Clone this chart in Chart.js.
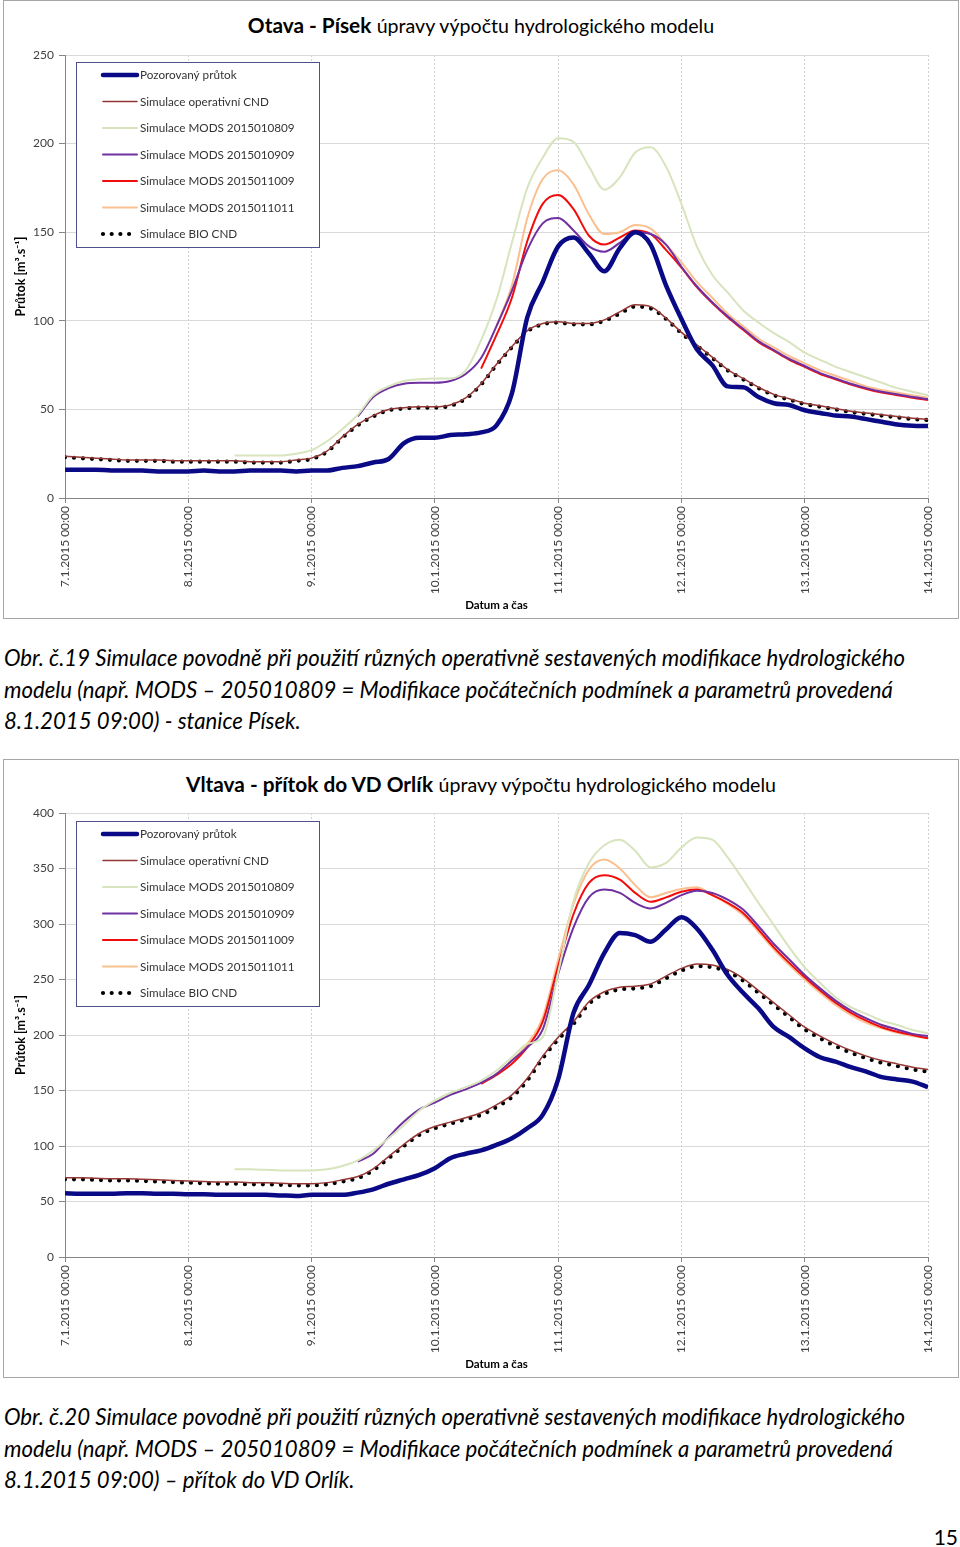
<!DOCTYPE html>
<html lang="cs">
<head>
<meta charset="utf-8">
<script src="https://cdn.jsdelivr.net/npm/chart.js@4.4.1/dist/chart.umd.min.js"></script>
<style>
  body { margin: 0; width: 960px; height: 1547px; position: relative; background: #fff;
         font-family: Lato, "Open Sans", sans-serif; color: #000; overflow: hidden; }
  .frame { position: absolute; left: 3px; width: 956px; height: 619px; border: 1px solid #a6a6a6; box-sizing: border-box; }
  .chart-title { position: absolute; left: 0; width: 962px; text-align: center; font-size: 20.8px; line-height: 24px; }
  .chart-title b { font-weight: bold; }
  .chart-title span { font-size: 19.6px; }
  canvas { position: absolute; left: 0; }
  .caption { position: absolute; left: 4px; font-style: italic; font-size: 22.2px; line-height: 31.5px; white-space: nowrap; }
  .page-num { position: absolute; right: 2px; top: 1524px; font-size: 21px; }
</style>
</head>
<body>

<div class="frame" style="top:0"></div>
<div class="chart-title" style="top:13px"><b>Otava - Písek</b> <span>úpravy výpočtu hydrologického modelu</span></div>
<canvas id="pisek" width="960" height="620" style="top:0"></canvas>
<div class="caption" style="top:642px">Obr. č.19 Simulace povodně při použití různých operativně sestavených modifikace hydrologického<br>modelu (např. MODS – 205010809 = Modifikace počátečních podmínek a parametrů provedená<br>8.1.2015 09:00) - stanice Písek.</div>

<div class="frame" style="top:759px"></div>
<div class="chart-title" style="top:772px"><b>Vltava - přítok do VD Orlík</b> <span>úpravy výpočtu hydrologického modelu</span></div>
<canvas id="orlik" width="960" height="620" style="top:759px"></canvas>
<div class="caption" style="top:1401px">Obr. č.20 Simulace povodně při použití různých operativně sestavených modifikace hydrologického<br>modelu (např. MODS – 205010809 = Modifikace počátečních podmínek a parametrů provedená<br>8.1.2015 09:00) – přítok do VD Orlík.</div>

<div class="page-num">15</div>

<script>
// hodiny od 7.1.2015 00:00, krok 3 h
const hours = [
  0, 3, 6, 9, 12, 15, 18, 21,
  24, 27, 30, 33, 36, 39, 42, 45,
  48, 51, 54, 57, 60, 63, 66, 69,
  72, 75, 78, 81, 84, 87, 90, 93,
  96, 99, 102, 105, 108, 111, 114, 117,
  120, 123, 126, 129, 132, 135, 138, 141,
  144, 147, 150, 153, 156, 159, 162, 165,
  168
];
const dayLabels = ['7.1.2015 00:00', '8.1.2015 00:00', '9.1.2015 00:00', '10.1.2015 00:00',
                   '11.1.2015 00:00', '12.1.2015 00:00', '13.1.2015 00:00', '14.1.2015 00:00'];
const seriesNames = ['Pozorovaný průtok', 'Simulace operativní CND', 'Simulace MODS 2015010809',
                     'Simulace MODS 2015010909', 'Simulace MODS 2015011009', 'Simulace MODS 2015011011',
                     'Simulace BIO CND'];

const pisekTicks = [0, 50, 100, 150, 200, 250];
const orlikTicks = [0, 50, 100, 150, 200, 250, 300, 350, 400];

// Otava - Písek
const pisekObserved = [
  16, 16, 16, 15.5, 15.5, 15.5, 15, 15,
  15, 15.5, 15, 15, 15.5, 15.5, 15.5, 15,
  15.5, 15.5, 17, 18, 20, 22, 31, 34,
  34, 35.5, 36, 37, 41, 59, 102, 122,
  142, 147, 138, 128, 141, 150, 143, 120,
  101, 84, 75, 63, 62.5, 57, 53.5, 52.5,
  49.5, 48, 46.5, 46, 44.5, 43, 41.5, 40.8,
  40.6
];
const pisekOperCnd = [
  23.5, 23, 22.5, 22, 21.5, 21.5, 21.5, 21,
  21, 21, 21, 21, 20.5, 20.5, 20.5, 21.5,
  22.5, 26.5, 34.5, 41.5, 46.5, 50, 51, 51.5,
  51.5, 52.5, 56.5, 64.5, 75.5, 85.5, 94.5, 98.5,
  99.5, 98.5, 98.5, 100.5, 105, 109, 108, 101.5,
  93.5, 86.5, 79.5, 72.5, 67.5, 62.5, 58.5, 56,
  53.5, 52, 50.5, 49, 48, 47, 46, 45,
  44.5
];
const pisekMods0809 = [
  null, null, null, null, null, null, null, null,
  null, null, null, 24, 24, 24, 24, 25,
  27, 32, 39, 47, 58, 63, 66, 67,
  67.5, 67.5, 72, 89, 112, 144, 175, 192,
  203, 201, 187, 174, 181, 195, 198, 187,
  166, 142, 126, 116, 106, 99, 93, 88,
  82, 78, 74, 71, 68, 65, 62, 60,
  58
];
const pisekMods0909 = [
  null, null, null, null, null, null, null, null,
  null, null, null, null, null, null, null, null,
  null, null, null, 46, 57, 62, 64.5, 65,
  65, 66, 70, 79, 97, 117, 140, 155,
  158, 151, 142, 139, 144, 150, 149, 143,
  130.5, 119.5, 110.5, 102.5, 95.5, 88.5, 83.5, 78.5,
  74.5, 70.5, 67.5, 64.5, 62, 60, 58.5, 57,
  55.8
];
const pisekMods1009 = [
  null, null, null, null, null, null, null, null,
  null, null, null, null, null, null, null, null,
  null, null, null, null, null, null, null, null,
  null, null, null, 73, 92, 113, 145, 166,
  171, 163, 148, 143, 147, 151, 149, 140,
  130, 119, 110, 102, 95, 88, 83, 78,
  74, 70, 67, 64, 61.5, 59.5, 58, 56.5,
  55.3
];
const pisekMods1011 = [
  null, null, null, null, null, null, null, null,
  null, null, null, null, null, null, null, null,
  null, null, null, null, null, null, null, null,
  null, null, null, null, 97, 120, 158, 180,
  185, 177, 160, 149, 150, 154, 152, 143,
  133, 122, 113, 104, 97, 90, 85, 80,
  76, 72, 69, 66, 63, 61, 59.5, 58,
  56.5
];
const pisekBioCnd = [
  23, 22.5, 22, 21.5, 21, 21, 21, 20.5,
  20.5, 20.5, 20.5, 20.5, 20, 20, 20, 21,
  22, 26, 34, 41, 46, 49.5, 50.5, 51,
  51, 52, 56, 64, 75, 85, 94, 98,
  99, 98, 98, 100, 104, 108, 107, 101,
  93, 86, 79, 72, 67, 62, 58, 55.5,
  53, 51.5, 50, 48.5, 47.5, 46.5, 45.5, 44.5,
  44
];

// Vltava - přítok do VD Orlík
const orlikObserved = [
  57.5, 57, 57, 57, 57.5, 57.5, 57, 57,
  56.5, 56.5, 56, 56, 56, 56, 55.5, 55,
  56, 56, 56, 58, 61, 66, 70, 74,
  80, 89, 93, 96, 101, 107, 116, 128,
  160, 220, 245, 274, 292, 290, 284, 295,
  306, 296, 277, 254, 238, 224, 207, 198,
  188, 180, 176, 171, 167, 162, 160, 158,
  153
];
const orlikOperCnd = [
  71.5, 71.5, 71, 70.5, 70.5, 70, 69.5, 69,
  68.5, 68, 67.5, 67.5, 67, 67, 66.5, 66,
  66, 67, 69.5, 72.5, 79.5, 90.5, 101.5, 111.5,
  117.5, 121.5, 125.5, 130, 137, 146, 161, 181,
  198, 212, 230, 239, 243, 244, 246, 253,
  260, 264, 263, 259, 251, 240, 229, 218,
  207, 199, 192, 186, 181, 177, 174, 171,
  169
];
const orlikMods0809 = [
  null, null, null, null, null, null, null, null,
  null, null, null, 79, 79, 78.5, 78, 78,
  78, 79, 82, 87, 96, 107, 119, 132,
  141, 148, 153, 159, 168, 180, 192, 198,
  256, 321, 355, 371, 376, 366, 351, 355,
  369, 378, 376, 360, 340, 319, 299, 279,
  261, 247, 234, 225, 219, 213, 209, 204.5,
  201.5
];
const orlikMods0909 = [
  null, null, null, null, null, null, null, null,
  null, null, null, null, null, null, null, null,
  null, null, null, 86, 93, 108, 122, 133,
  139, 146, 151, 157, 165, 177, 189, 205,
  255, 297, 324, 331, 328, 319, 314, 319,
  326, 330, 328, 322, 313, 298, 282, 268,
  254, 242, 231, 222, 215, 209, 205, 201,
  199
];
const orlikMods1009 = [
  null, null, null, null, null, null, null, null,
  null, null, null, null, null, null, null, null,
  null, null, null, null, null, null, null, null,
  null, null, null, 156, 164, 174, 189, 212,
  262, 309, 337, 344, 340, 328, 320, 324,
  329, 331, 326, 319, 310, 295, 279, 265,
  252, 240, 229, 220, 213, 207, 203, 200,
  197
];
const orlikMods1011 = [
  null, null, null, null, null, null, null, null,
  null, null, null, null, null, null, null, null,
  null, null, null, null, null, null, null, null,
  null, null, null, null, 165, 177, 192, 216,
  268, 318, 349, 358, 350, 335, 324, 328,
  331.5, 333, 326, 318, 308, 293, 277, 263,
  250, 238, 227, 218, 211, 206, 202, 199,
  197
];
const orlikBioCnd = [
  70, 70, 69.5, 69, 69, 68.5, 68, 67.5,
  67, 66.5, 66, 66, 65.5, 65.5, 65, 64.5,
  64.5, 65.5, 68, 71, 78, 89, 100, 110,
  116, 120, 124, 128, 135, 144, 159, 179,
  196, 210, 228, 237, 241, 242, 244, 251,
  258, 262, 261, 257, 249, 238, 227, 216,
  205, 197, 190, 184, 179, 175, 172, 169,
  167
];

const seriesStyles = [
  { borderColor: '#0a0a86', borderWidth: 4.5 },
  { borderColor: '#953735', borderWidth: 1.5 },
  { borderColor: '#d7e4bd', borderWidth: 2 },
  { borderColor: '#7030a0', borderWidth: 2 },
  { borderColor: '#f20d0d', borderWidth: 2 },
  { borderColor: '#fac090', borderWidth: 2 },
  { borderColor: '#000000', borderWidth: 4.2, borderDash: [0, 9], borderCapStyle: 'round' }
];

Chart.defaults.font.family = 'Lato, "Open Sans", sans-serif';
Chart.defaults.animation = false;

// legenda v rámečku uvnitř grafu
const boxLegend = {
  id: 'boxLegend',
  afterDraw(chart) {
    const ctx = chart.ctx;
    const x = 76, y = 62, w = 243, h = 185;
    ctx.save();
    ctx.fillStyle = '#fff';
    ctx.fillRect(x, y, w, h);
    ctx.strokeStyle = '#50508a';
    ctx.lineWidth = 1;
    ctx.strokeRect(x + 0.5, y + 0.5, w, h);
    ctx.font = '11.7px Lato, "Open Sans", sans-serif';
    ctx.textBaseline = 'middle';
    chart.data.datasets.forEach((ds, i) => {
      const cy = y + 13 + i * 26.5;
      ctx.beginPath();
      ctx.strokeStyle = ds.borderColor;
      ctx.lineWidth = ds.borderWidth;
      ctx.lineCap = ds.borderCapStyle || 'round';
      ctx.setLineDash(ds.borderDash ? [0, 8.7] : []);
      ctx.moveTo(103, cy);
      ctx.lineTo(ds.borderDash ? 130 : 137, cy);
      ctx.stroke();
      ctx.setLineDash([]);
      ctx.fillStyle = '#333';
      ctx.fillText(ds.label, 140, cy + 0.5);
    });
    ctx.restore();
  }
};

function makeChart(id, seriesValues, yMax, yTicks, topPad) {
  const datasets = seriesValues.map((values, i) => ({
    label: seriesNames[i],
    data: hours.map((hr, j) => ({ x: hr, y: values[j] })),
    pointRadius: 0,
    fill: false,
    cubicInterpolationMode: 'monotone',
    ...seriesStyles[i]
  }));

  return new Chart(document.getElementById(id), {
    type: 'line',
    data: { datasets },
    plugins: [boxLegend],
    options: {
      responsive: false,
      layout: { padding: { left: 9, top: topPad, right: 32, bottom: 4 } },
      plugins: { legend: { display: false }, tooltip: { enabled: false } },
      scales: {
        x: {
          type: 'linear',
          min: 0,
          max: 168,
          afterFit: (scale) => { scale.height = 118; },
          afterBuildTicks: (scale) => { scale.ticks = hours.filter(hr => hr % 24 === 0).map(v => ({ value: v })); },
          ticks: {
            autoSkip: false,
            minRotation: 90,
            maxRotation: 90,
            padding: 3,
            color: '#404040',
            font: { size: 12 },
            callback: (v) => dayLabels[v / 24]
          },
          grid: { color: '#d0d0d0', tickLength: 5, tickColor: '#868686' },
          border: { color: '#868686', dash: [2, 2] },
          title: { display: true, text: 'Datum a čas', color: '#000', font: { size: 11.5, weight: 'bold' } }
        },
        y: {
          min: 0,
          max: yMax,
          afterFit: (scale) => { scale.width = 56; },
          afterBuildTicks: (scale) => { scale.ticks = yTicks.map(v => ({ value: v })); },
          ticks: { padding: 5, color: '#404040', font: { size: 12 } },
          grid: { color: '#d9d9d9', tickLength: 6, tickColor: '#868686' },
          border: { color: '#868686' },
          title: { display: true, text: 'Průtok [m³.s⁻¹]', color: '#000', font: { size: 12.5, weight: 'bold' } }
        }
      }
    }
  });
}

makeChart('pisek', [pisekObserved, pisekOperCnd, pisekMods0809, pisekMods0909,
                    pisekMods1009, pisekMods1011, pisekBioCnd], 250, pisekTicks, 55);
makeChart('orlik', [orlikObserved, orlikOperCnd, orlikMods0809, orlikMods0909,
                    orlikMods1009, orlikMods1011, orlikBioCnd], 400, orlikTicks, 54);
</script>
</body>
</html>
